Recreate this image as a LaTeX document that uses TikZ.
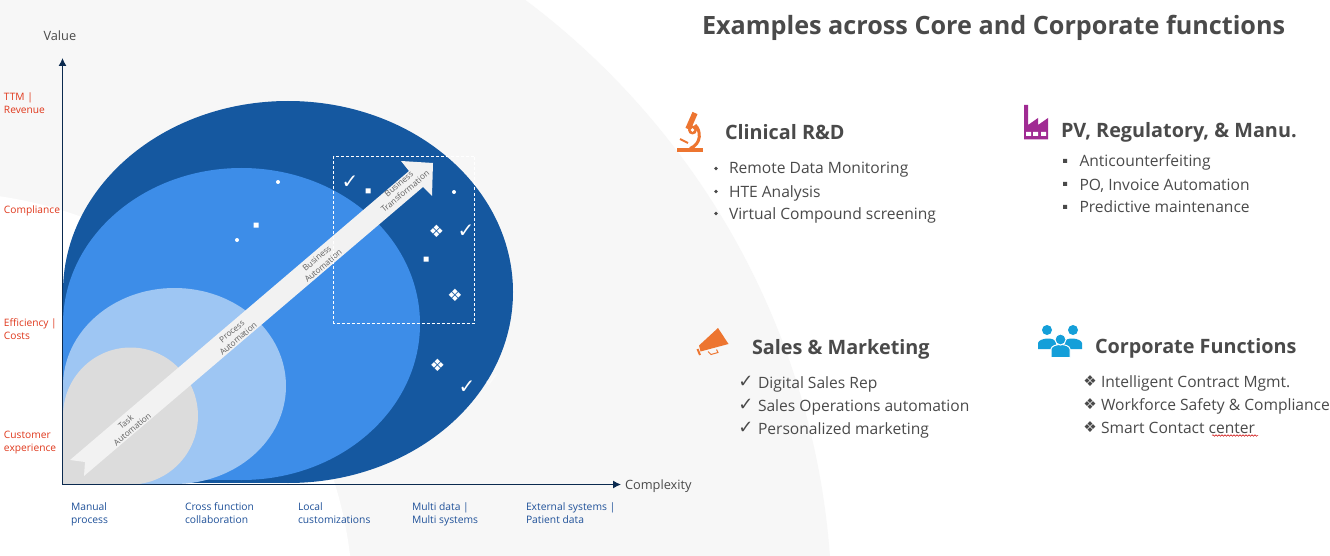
\documentclass[tikz,border=0pt]{standalone}
\usepackage{fontspec}
\setmainfont{Open Sans}
\newfontfamily\symfont{DejaVu Sans}
\usetikzlibrary{arrows.meta,decorations.pathmorphing}
\definecolor{bgGray}{HTML}{F7F7F7}
\definecolor{darkBlue}{HTML}{1558A0}
\definecolor{midBlue}{HTML}{3D8DE8}
\definecolor{lightBlue}{HTML}{9EC6F3}
\definecolor{coreGray}{HTML}{DCDCDC}
\definecolor{arrowGray}{HTML}{F2F2F2}
\definecolor{axisNavy}{HTML}{0B2A4F}
\definecolor{txtGray}{HTML}{4A4A4A}
\definecolor{redLab}{HTML}{E0381C}
\definecolor{blueLab}{HTML}{1F5199}
\definecolor{orangeIc}{HTML}{ED7530}
\definecolor{purpleIc}{HTML}{A02B93}
\definecolor{cyanIc}{HTML}{149FD9}
\newcommand{\fs}[1]{\fontsize{#1}{#1}\selectfont}
\tikzset{
  x=1pt,y=-1pt,
  every node/.style={inner sep=0pt,outer sep=0pt},
  redlabel/.style={anchor=base west,text=redLab,font=\fs{10.2}},
  bluelabel/.style={anchor=base west,text=blueLab,font=\fs{10.3}},
  axislabel/.style={anchor=base west,text=txtGray,font=\fs{12.8}},
  heading/.style={anchor=base west,text=txtGray,font=\bfseries\fs{19.8}},
  item/.style={anchor=base west,text=txtGray,font=\fs{15.6}},
  check symbol/.style={anchor=center,text=txtGray,font=\symfont\fs{18}},
  cluster symbol/.style={anchor=center,text=txtGray,font=\symfont\fs{15}},
  bullet symbol/.style={fill=txtGray,circle,minimum size=3.6pt},
  white check/.style={anchor=center,text=white,font=\symfont\fs{20}},
  white cluster/.style={anchor=center,text=white,font=\symfont\fs{17}},
  arrowtext/.style={anchor=center,align=center,rotate=40,text=black!62,font=\fs{8.3}},
  axisline/.style={draw=axisNavy,line width=1.1pt,-{Latex[length=8pt,width=8pt]}}
}
\begin{document}
\begin{tikzpicture}
\clip (0,0) rectangle (1330,556);
\fill[white] (0,0) rectangle (1330,556);
% background crescent
\fill[bgGray] (66,613) circle[radius=766pt];
\fill[white] (-60,605) circle[radius=413pt];
% nested blobs: ellipses whose lower-left corners are filled out to the axes
\begin{scope}
\clip (63,0) rectangle (700,484);
\fill[darkBlue] (288,292) ellipse[x radius=225pt,y radius=191pt];
\fill[darkBlue] (63,292) rectangle (288,483);
\fill[midBlue] (241.5,324) ellipse[x radius=178.5pt,y radius=156pt];
\fill[midBlue] (63,324) rectangle (241.5,480);
\fill[lightBlue] (174.5,386) ellipse[x radius=111.5pt,y radius=98pt];
\fill[lightBlue] (63,386) rectangle (174.5,484);
\fill[coreGray] (130.5,416) ellipse[x radius=67.5pt,y radius=68.5pt];
\fill[coreGray] (63,416) rectangle (130.5,484.5);
\end{scope}
% growth arrow
\fill[arrowGray] (70,460) -- (409,171) -- (401,161) -- (433,163) -- (432,196) -- (423,187) -- (84,476) -- (85,462) -- cycle;
\node[arrowtext] (t1) at (129,425.5) {Task\\[1.5pt]Automation};
\node[arrowtext] (t2) at (235,335) {Process\\[1.5pt]Automation};
\node[arrowtext] (t3) at (320,262) {Business\\[1.5pt]Automation};
\node[arrowtext] (t4) at (402,187.5) {Business\\[1.5pt]Transformation};
% dashed box
\draw[white,line width=.8pt,dash pattern=on 3pt off 2pt] (333.5,156) rectangle (474,323);
% markers
\fill[white] (278,182) circle[radius=2pt] (237,240) circle[radius=2pt] (454,192) circle[radius=2pt];
\fill[white] (253.5,222.5) rectangle (258.5,227.5) (365.5,188.5) rectangle (370.5,193.5) (423.5,256.5) rectangle (428.5,261.5);
\node[white check] (c1) at (350,182) {✓};
\node[white check] (c2) at (466,231) {✓};
\node[white check] (c3) at (467,387) {✓};
\node[white check,opacity=.6] (c4) at (492,381) {✓};
\node[white cluster] (d1) at (436.5,231.5) {❖};
\node[white cluster] (d2) at (455,295) {❖};
\node[white cluster] (d3) at (437.5,365) {❖};
% axes
\coordinate (origin) at (62.5,484.5);
\coordinate (ytip) at (62.5,58);
\coordinate (xtip) at (621,484.5);
\draw[axisline] (origin) -- (ytip);
\draw[axisline] (origin) -- (xtip);
\node[axislabel] (val) at (43.5,40.5) {Value};
\node[axislabel] (cmp) at (625,489.5) {Complexity};
% value labels
\node[redlabel] (r1) at (4,100.5) {TTM |};
\node[redlabel] (r1b) at (4,114) {Revenue};
\node[redlabel] (r2) at (4,214) {Compliance};
\node[redlabel] (r3) at (4,326) {Efficiency |};
\node[redlabel] (r3b) at (4,339) {Costs};
\node[redlabel] (r4) at (4,438) {Customer};
\node[redlabel] (r4b) at (4,451) {experience};
% complexity labels
\node[bluelabel] (b1) at (71,510) {Manual};
\node[bluelabel] (b1b) at (71,523) {process};
\node[bluelabel] (b2) at (185,510) {Cross function};
\node[bluelabel] (b2b) at (185,523) {collaboration};
\node[bluelabel] (b3) at (298,510) {Local};
\node[bluelabel] (b3b) at (298,523) {customizations};
\node[bluelabel] (b4) at (412,510) {Multi data |};
\node[bluelabel] (b4b) at (412,523) {Multi systems};
\node[bluelabel] (b5) at (526,510) {External systems |};
\node[bluelabel] (b5b) at (526,523) {Patient data};
% title
\node[anchor=base west,text=txtGray,font=\bfseries\fs{25.2}] (title) at (702,35) {Examples across Core and Corporate functions};
% headings
\node[heading] (h1) at (725,139.5) {Clinical R\&D};
\node[heading] (h2) at (1061,137.5) {PV, Regulatory, \& Manu.};
\node[heading] (h3) at (752,354) {Sales \& Marketing};
\node[heading] (h4) at (1095,353) {Corporate Functions};
% Clinical list
\node[bullet symbol] (m11) at (716,168.5) {};
\node[bullet symbol] (m12) at (716,191.5) {};
\node[bullet symbol] (m13) at (716,213.5) {};
\node[item] (i11) at (729,174) {Remote Data Monitoring};
\node[item] (i12) at (729,197) {HTE Analysis};
\node[item] (i13) at (729,219) {Virtual Compound screening};
% PV list
\fill[txtGray] (1063,159) rectangle (1067,163) (1063,182) rectangle (1067,186) (1063,205) rectangle (1067,209);
\node[item] (i21) at (1079.5,167) {Anticounterfeiting};
\node[item] (i22) at (1079.5,190) {PO, Invoice Automation};
\node[item] (i23) at (1079.5,213) {Predictive maintenance};
% Sales list
\node[check symbol] (m31) at (746,382) {✓};
\node[check symbol] (m32) at (746,405) {✓};
\node[check symbol] (m33) at (746,428) {✓};
\node[item] (i31) at (758,388) {Digital Sales Rep};
\node[item] (i32) at (758,411) {Sales Operations automation};
\node[item] (i33) at (758,434) {Personalized marketing};
% Corporate list
\node[cluster symbol] (m41) at (1090,381) {❖};
\node[cluster symbol] (m42) at (1090,404) {❖};
\node[cluster symbol] (m43) at (1090,427) {❖};
\node[item] (i41) at (1101,387) {Intelligent Contract Mgmt.};
\node[item] (i42) at (1101,410) {Workforce Safety \& Compliance};
\node[item] (i43) at (1101,433) {Smart Contact center};
\draw[red!80!black,line width=.5pt,decorate,decoration={snake,amplitude=.8pt,segment length=3pt}] (1212,435.5) -- (1258,435.5);
% microscope icon
\fill[orangeIc] (677,148.5) rectangle (703,152);
\draw[orangeIc,line width=5.5pt] (695,113) -- (688,129);
\draw[orangeIc,line width=3pt] (695,125) .. controls (701,130) and (702,144) .. (690,148.5);
\fill[orangeIc] (692.5,130) circle[radius=4.5pt];
\fill[white] (692.5,130) circle[radius=1.8pt];
\draw[orangeIc,line width=2pt] (680,139) -- (688,143);
% factory icon
\fill[purpleIc] (1024,105) -- (1028,105) -- (1028,125) -- (1038,118) -- (1038,125) -- (1048,118) -- (1048,139.5) -- (1024,139.5) -- cycle;
\fill[white] (1026,132) rectangle (1031,136) (1033,132) rectangle (1038,136) (1041,132) rectangle (1046,136);
% megaphone icon
\fill[orangeIc] (718,328) -- (728.5,344) -- (700.5,351.5) -- (699,345.5) -- cycle;
\draw[orangeIc,line width=2pt] (697.5,349) -- (700,355);
\draw[orangeIc,line width=1pt] (708,351.5) -- (711,354.5) -- (718,352.5) -- (716.5,349.5);
% people icon
\fill[cyanIc] (1047,330) circle[radius=5pt] (1073,330) circle[radius=5pt];
\fill[cyanIc] (1038,349) -- (1038,343) .. controls (1039,338) and (1055,336) .. (1056,343) -- (1056,349) -- cycle;
\fill[cyanIc] (1082,349) -- (1082,343) .. controls (1081,338) and (1065,336) .. (1064,343) -- (1064,349) -- cycle;
\filldraw[cyanIc,draw=white,line width=1pt] (1051,357.5) -- (1051,349) .. controls (1052,343) and (1069,343) .. (1070,349) -- (1070,357.5) -- cycle;
\filldraw[cyanIc,draw=white,line width=1pt] (1060.5,339.5) circle[radius=5.5pt];
\end{tikzpicture}
\end{document}
